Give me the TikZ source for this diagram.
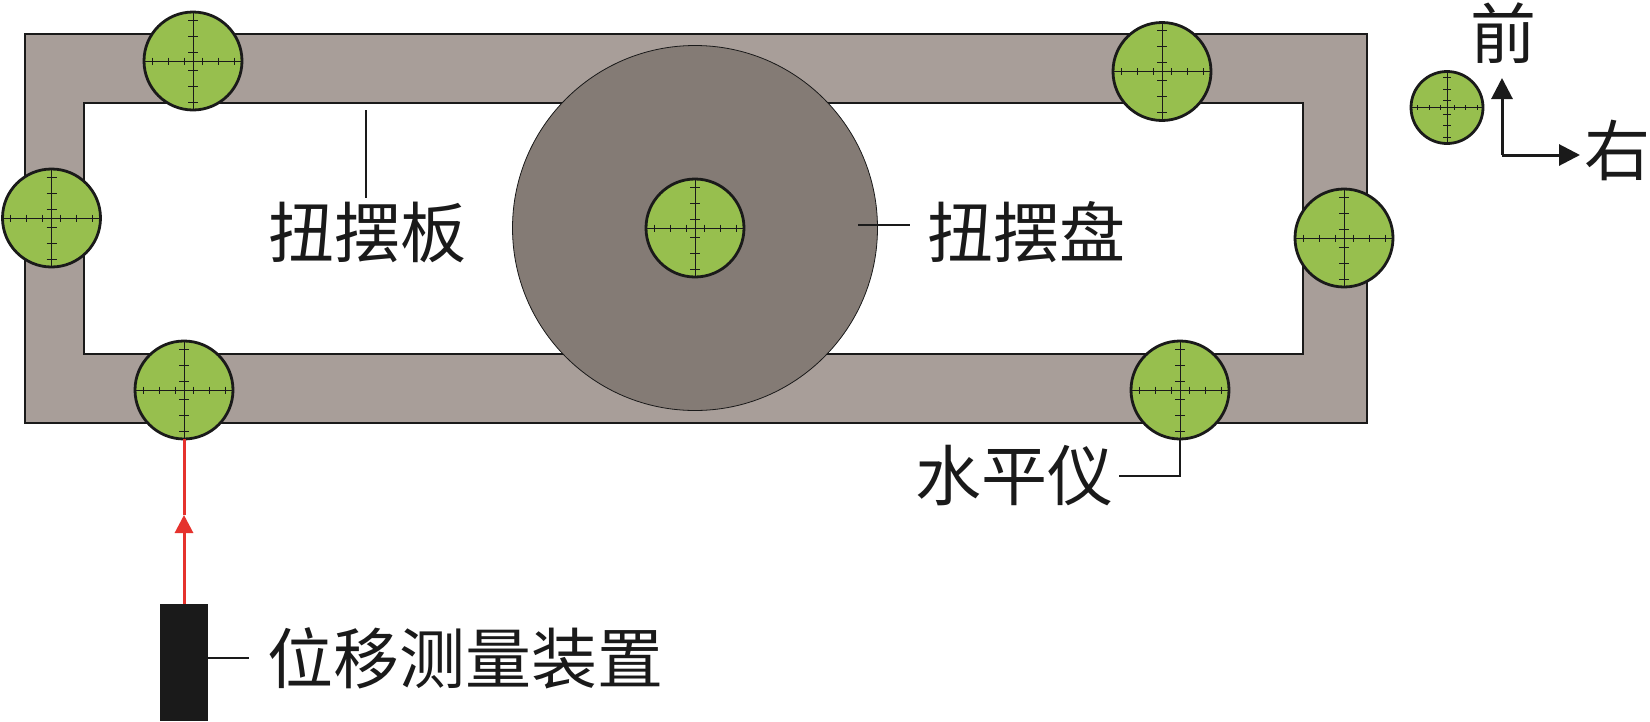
\documentclass[tikz,border=0pt]{standalone}
\usepackage{fontspec}
\setmainfont{Noto Sans CJK SC}
\usetikzlibrary{arrows.meta,calc}
\definecolor{plate}{HTML}{A89E99}
\definecolor{disc}{HTML}{847B75}
\definecolor{bubble}{HTML}{97BF4E}
\definecolor{ink}{HTML}{1A1A1A}
\definecolor{beam}{HTML}{E5322D}
\tikzset{
	vial/.style={circle, draw=ink, fill=bubble, line width=2.8pt, inner sep=0pt, outer sep=0pt, minimum size=2*#1},
	vial/.default=49pt,
	leader/.style={draw=ink, line width=2.6pt},
	tag/.style={font=\fontsize{66}{66}\selectfont, text=ink, inner sep=0pt},
}
\begin{document}
\begin{tikzpicture}[x=1pt, y=-1pt, >={Triangle[length=21pt, width=21pt]}]
	\useasboundingbox (0,0) rectangle (1650,721);
	\fill[white] (0,0) rectangle (1650,721);
	% plate and disc
	\draw[ink, fill=plate, line width=2.8pt] (25,34) rectangle (1367,423);
	\draw[ink, fill=white, line width=2.8pt] (84,103) rectangle (1303,354);
	\node[circle, draw=ink, fill=disc, line width=0.8pt, inner sep=0pt, minimum size=365pt] (D) at (695,228) {};
	% levels
	\foreach \n/\x/\y in {A/193/61, B/51.5/218, C/184/390, E/1162/71.5, F/1344/238, G/1180/390, H/695/228}{
		\node[vial] (\n) at (\x,\y) {};
		\draw[ink, line width=1pt] (\n.west)--(\n.east) (\n.north)--(\n.south);
		\foreach \t in {-41,-25,-9,9,25,41}{
			\draw[ink, line width=1pt] ($(\n)+(\t,-3.5)$)--($(\n)+(\t,3.5)$);
			\draw[ink, line width=1pt] ($(\n)+(-5,\t)$)--($(\n)+(5,\t)$);
		}
	}
	\node[vial=36pt] (I) at (1447,107.5) {};
	\draw[ink, line width=0.9pt] (I.west)--(I.east) (I.north)--(I.south);
	\foreach \t in {-30,-18,-7,7,18,30}{
		\draw[ink, line width=0.9pt] ($(I)+(\t,-2.5)$)--($(I)+(\t,2.5)$);
		\draw[ink, line width=0.9pt] ($(I)+(-4,\t)$)--($(I)+(4,\t)$);
	}
	% directions
	\path (1502,155) coordinate (O) (1502,78) coordinate (N) (1580,155) coordinate (R);
	\draw[ink, line width=3pt, ->] (O)--(N);
	\draw[ink, line width=3pt, ->] (O)--(R);
	\node[tag] (front) at (1503,33) {前};
	\node[tag] (right) at (1617,150) {右};
	% sensor
	\node[fill=ink, inner sep=0pt, outer sep=0pt, minimum width=48pt, minimum height=117pt] (S) at (184,662.5) {};
	\coordinate (T) at (184,515);
	\draw[beam, line width=3pt, -{Triangle[length=18pt, width=18pt]}] (S.north)--(T);
	\draw[beam, line width=3pt] (T)--(C.south);
	% labels
	\node[tag] (plateL) at (367,232) {扭摆板};
	\node[tag] (discL) at (1026,232) {扭摆盘};
	\node[tag] (levelL) at (1014,476) {水平仪};
	\node[tag] (sensorL) at (465,658) {位移测量装置};
	\coordinate (P) at (366,110);
	\coordinate (Q) at (858,225);
	\draw[leader, shorten >=3pt] (P)--(plateL.north -| P);
	\draw[leader, shorten >=17pt] (Q)--(discL.west |- Q);
	\draw[leader, shorten >=6pt] (G.south)--(G.south |- levelL)--(levelL.east);
	\draw[leader, shorten >=18pt] (S.east |- sensorL)--(sensorL.west);
\end{tikzpicture}
\end{document}
